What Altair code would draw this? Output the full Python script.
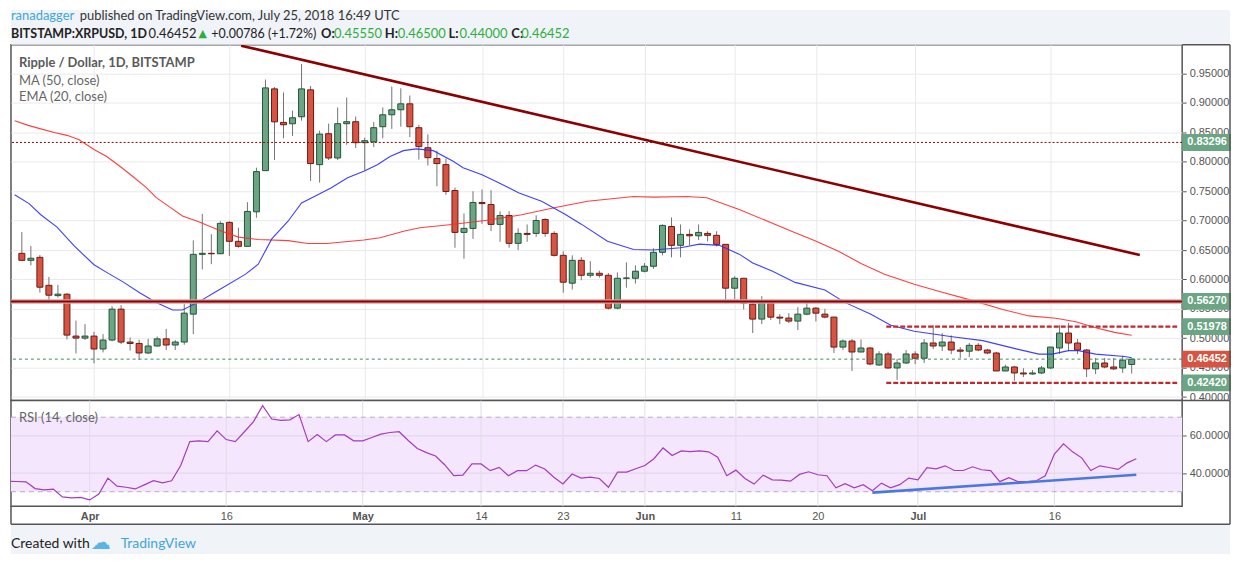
import altair as alt
import pandas as pd

# ---------------- data ----------------
first_day = "2018-03-24"
last_day = "2018-07-25"

opens = [
    0.6444, 0.6325, 0.6376, 0.5900, 0.5725, 0.5749, 0.5037, 0.5003,
    0.5037, 0.4817, 0.4970, 0.5495, 0.4936, 0.4912, 0.4750, 0.4868, 0.4990, 0.4885,
    0.4936, 0.5410, 0.6427, 0.6444, 0.6437, 0.6970, 0.6648, 0.6563, 0.7150, 0.7850,
    0.9240, 0.8670, 0.8647, 0.8766, 0.9224, 0.7952, 0.8478, 0.8065, 0.8648, 0.8682,
    0.8325, 0.8340, 0.8597, 0.8800, 0.8885, 0.8986, 0.8580, 0.8240, 0.8055, 0.7953,
    0.7512, 0.6800, 0.6868, 0.7309, 0.7275, 0.6936, 0.7088, 0.6614, 0.6783, 0.6783,
    0.7020, 0.6783, 0.6410, 0.5936, 0.6325, 0.6071, 0.6105, 0.6071, 0.5512, 0.6020, 0.6020,
    0.6140, 0.6224, 0.6461, 0.6900, 0.6580, 0.6766, 0.6742, 0.6783, 0.6750, 0.6597,
    0.5851, 0.6020, 0.5580, 0.5326, 0.5597, 0.5359, 0.5343, 0.5292, 0.5410, 0.5512,
    0.5410, 0.5360, 0.4850, 0.4953, 0.4767, 0.4834, 0.4546, 0.4733, 0.4495, 0.4580,
    0.4733, 0.4660, 0.4920, 0.4868, 0.4936, 0.4800, 0.4780, 0.4880, 0.4800, 0.4750,
    0.4444, 0.4512, 0.4410, 0.4393, 0.4410, 0.4495, 0.4834, 0.5088, 0.4919, 0.4800,
    0.4480, 0.4580, 0.4512, 0.4495, 0.4555,
]
highs = [
    0.6805, 0.6570, 0.6415, 0.6042, 0.5907, 0.5770, 0.5300, 0.5240,
    0.5110, 0.5070, 0.5546, 0.5563, 0.5010, 0.4975, 0.4990, 0.5030, 0.5160, 0.4970,
    0.5580, 0.6665, 0.7115, 0.6770, 0.6990, 0.6990, 0.6880, 0.7313, 0.7900, 0.9398,
    0.9270, 0.9180, 0.8870, 0.9664, 0.9290, 0.8529, 0.8650, 0.8924, 0.9093, 0.8770,
    0.8410, 0.8675, 0.8924, 0.9280, 0.9250, 0.9127, 0.8630, 0.8466, 0.8190, 0.8055,
    0.7563, 0.7122, 0.7500, 0.7530, 0.7517, 0.7160, 0.7160, 0.6870, 0.6935, 0.7090,
    0.7040, 0.6820, 0.6480, 0.6410, 0.6380, 0.6310, 0.6150, 0.6110, 0.6120, 0.6290, 0.6240,
    0.6280, 0.6530, 0.6935, 0.7055, 0.6935, 0.6850, 0.6935, 0.6820, 0.6820, 0.6600,
    0.6054, 0.6020, 0.5614, 0.5716, 0.5624, 0.5410, 0.5427, 0.5530, 0.5648, 0.5530,
    0.5500, 0.5360, 0.4980, 0.4986, 0.4980, 0.4850, 0.4780, 0.4770, 0.4650, 0.4800,
    0.4780, 0.4986, 0.5224, 0.5088, 0.5050, 0.4850, 0.4920, 0.4920, 0.4820, 0.4770,
    0.4550, 0.4530, 0.4490, 0.4460, 0.4530, 0.4850, 0.5224, 0.5258, 0.4986, 0.4820,
    0.4665, 0.4665, 0.4665, 0.4705, 0.4650,
]
lows = [
    0.6320, 0.6240, 0.5776, 0.5607, 0.5690, 0.4980, 0.4742, 0.4970,
    0.4573, 0.4760, 0.4946, 0.4900, 0.4790, 0.4630, 0.4730, 0.4860, 0.4800, 0.4800,
    0.4890, 0.5070, 0.6170, 0.6260, 0.6430, 0.6400, 0.6540, 0.6560, 0.7050, 0.7850,
    0.8030, 0.8400, 0.8440, 0.8700, 0.7675, 0.7647, 0.8030, 0.8030, 0.8290, 0.8234,
    0.7856, 0.8250, 0.8400, 0.8560, 0.8597, 0.8420, 0.8040, 0.7936, 0.7585, 0.7440,
    0.6539, 0.6352, 0.6690, 0.6946, 0.6822, 0.6640, 0.6540, 0.6500, 0.6640, 0.6725,
    0.6725, 0.6390, 0.5776, 0.5830, 0.5986, 0.6030, 0.6030, 0.5490, 0.5495, 0.5860, 0.5930,
    0.6120, 0.6180, 0.6410, 0.6376, 0.6376, 0.6580, 0.6670, 0.6647, 0.6560, 0.5597,
    0.5665, 0.5490, 0.5088, 0.5240, 0.5309, 0.5240, 0.5258, 0.5140, 0.5390, 0.5285,
    0.5340, 0.4750, 0.4800, 0.4444, 0.4760, 0.4540, 0.4530, 0.4480, 0.4292, 0.4563,
    0.4560, 0.4580, 0.4817, 0.4783, 0.4730, 0.4660, 0.4680, 0.4780, 0.4730, 0.4444,
    0.4440, 0.4280, 0.4340, 0.4380, 0.4390, 0.4480, 0.4733, 0.4780, 0.4730, 0.4340,
    0.4390, 0.4490, 0.4460, 0.4410, 0.4400,
]
closes = [
    0.6325, 0.6360, 0.5868, 0.5732, 0.5750, 0.5054, 0.5003, 0.5037,
    0.4817, 0.4970, 0.5495, 0.4936, 0.4912, 0.4750, 0.4868, 0.4990, 0.4885, 0.4936,
    0.5427, 0.6427, 0.6444, 0.6437, 0.6953, 0.6648, 0.6563, 0.7156, 0.7834, 0.9257,
    0.8680, 0.8630, 0.8749, 0.9240, 0.7970, 0.8471, 0.8065, 0.8648, 0.8682, 0.8325,
    0.8359, 0.8580, 0.8800, 0.8885, 0.8986, 0.8597, 0.8258, 0.8070, 0.7970, 0.7495,
    0.6800, 0.6868, 0.7309, 0.7290, 0.6936, 0.7088, 0.6614, 0.6783, 0.6766, 0.7003,
    0.6783, 0.6410, 0.5953, 0.6325, 0.6071, 0.6105, 0.6071, 0.5512, 0.6020, 0.6025, 0.6140,
    0.6224, 0.6461, 0.6919, 0.6580, 0.6766, 0.6742, 0.6800, 0.6750, 0.6597, 0.5851,
    0.6020, 0.5597, 0.5326, 0.5597, 0.5359, 0.5343, 0.5292, 0.5410, 0.5512, 0.5427,
    0.5360, 0.4850, 0.4953, 0.4767, 0.4834, 0.4563, 0.4733, 0.4495, 0.4580, 0.4733,
    0.4660, 0.4920, 0.4868, 0.4936, 0.4800, 0.4780, 0.4880, 0.4800, 0.4750, 0.4444,
    0.4512, 0.4410, 0.4393, 0.4410, 0.4495, 0.4850, 0.5088, 0.4919, 0.4800, 0.4480,
    0.4580, 0.4512, 0.4480, 0.4628, 0.4645,
]

# RSI(14) read per day, Mar 23 .. Jul 25
rsi_first_day = "2018-03-23"
rsi_vals = [
    35.6,
    35.5, 35.3, 31.7, 31.0, 31.4, 27.2, 26.7, 27.0,
    25.6, 28.8, 37.3, 33.0, 32.4, 31.5, 33.7, 35.9, 34.8, 35.9,
    44.1, 56.9, 57.3, 56.9, 62.7, 58.0, 56.9, 62.2, 67.6, 76.2,
    69.0, 68.3, 68.6, 71.4, 56.9, 60.7, 56.9, 60.5, 60.5, 57.3,
    57.3, 59.1, 60.9, 61.8, 62.2, 57.5, 53.2, 51.0, 49.2, 44.5,
    38.6, 38.9, 44.9, 44.9, 41.3, 43.1, 38.6, 41.3, 41.3, 44.3,
    42.2, 37.8, 34.2, 39.5, 37.3, 37.8, 37.1, 32.4, 40.5, 40.5, 42.3,
    44.1, 47.7, 53.5, 49.4, 51.9, 51.5, 51.9, 51.4, 48.5, 38.6,
    41.6, 37.1, 34.1, 38.9, 36.4, 36.2, 35.7, 39.3, 40.7, 39.1,
    38.6, 32.1, 34.3, 32.1, 33.8, 30.5, 34.6, 32.1, 33.8, 37.3,
    36.4, 42.9, 42.3, 43.9, 41.4, 41.4, 43.4, 41.8, 41.3, 35.4,
    37.5, 35.4, 35.4, 35.9, 38.6, 50.2, 55.7, 51.4, 48.2, 41.4,
    43.9, 43.0, 42.0, 45.5, 47.7,
]

# moving averages (days counted from Apr 1)
ma50_day = [-8.8, -7.3, -5.9, -4.4, -3.0, -1.7, 0.0, 1.4, 2.9, 4.3, 5.8, 6.9, 8.4, 9.8, 11.6,
            13.8, 16.0, 18.2, 21.5, 23.7, 25.8, 29.9, 31.7, 34.3, 36.1, 39.4, 43.8, 47.4,
            51.0, 54.7, 59.8, 62.0, 65.7, 67.9, 71.5, 77.3, 79.9, 82.5, 85.0, 87.6, 90.9,
            93.8, 97.4, 100.7, 103.6, 106.6, 108.8, 111.0, 113.1, 115.0]
ma50_val = [0.870, 0.862, 0.856, 0.850, 0.845, 0.838, 0.821, 0.809, 0.792, 0.775, 0.756, 0.739,
            0.723, 0.708, 0.698, 0.684, 0.672, 0.668, 0.666, 0.661, 0.661, 0.667, 0.671, 0.682,
            0.688, 0.693, 0.701, 0.710, 0.722, 0.733, 0.741, 0.740, 0.741, 0.739, 0.719, 0.682,
            0.666, 0.648, 0.627, 0.609, 0.592, 0.579, 0.564, 0.549, 0.538, 0.534, 0.528, 0.518,
            0.510, 0.505]
ema20_day = [-8.8, -7.2, -5.9, -4.1, -2.2, 0.0, 1.4, 3.3, 5.1, 6.9, 8.7, 9.8, 11.5, 13.5, 16.8,
             18.2, 19.7, 21.5, 23.0, 24.8, 26.3, 28.1, 29.9, 31.4, 32.8, 34.3, 35.7, 37.6, 39.8,
             40.9, 43.0, 44.9, 47.1, 49.6, 52.2, 54.0, 56.9, 59.8, 62.0, 65.0, 67.1, 69.3, 71.5,
             73.0, 75.2, 77.7, 81.0, 83.2, 86.1, 88.3, 90.9, 94.9, 98.5, 102.2, 104.7, 106.2,
             108.0, 109.1, 111.0, 114.2, 115.0]
ema20_val = [0.744, 0.729, 0.710, 0.689, 0.657, 0.625, 0.612, 0.595, 0.577, 0.561, 0.548, 0.548,
             0.561, 0.579, 0.609, 0.626, 0.669, 0.699, 0.730, 0.744, 0.756, 0.773, 0.784, 0.795,
             0.809, 0.819, 0.822, 0.819, 0.801, 0.790, 0.778, 0.764, 0.747, 0.733, 0.711, 0.694,
             0.665, 0.651, 0.650, 0.654, 0.660, 0.658, 0.643, 0.628, 0.614, 0.595, 0.582, 0.561,
             0.541, 0.522, 0.512, 0.503, 0.496, 0.482, 0.473, 0.473, 0.479, 0.479, 0.473, 0.469,
             0.467]

# drawn lines
trend_day = [16.3, 115.9]
trend_val = [0.9975, 0.6415]
rsi_trend_day = [86.0, 115.0]
rsi_trend_val = [29.5, 39.1]
level_vals = [0.83296, 0.56270, 0.51978, 0.46452, 0.42420]
level_text = ["0.83296", "0.56270", "0.51978", "0.46452", "0.42420"]
level_kind = ["level", "level", "level", "last", "level"]
range_start_day = 87.8

# axes
price_ticks = [0.40, 0.45, 0.50, 0.55, 0.60, 0.65, 0.70, 0.75, 0.80, 0.85, 0.90, 0.95]
tick_days = [0, 15, 30, 43, 52, 61, 71, 80, 91, 106]
tick_labels = ["Apr", "16", "May", "14", "23", "Jun", "11", "20", "Jul", "16"]
month_days = [0, 30, 61, 91]
rsi_ticks = [40, 60]

# ---------------- frames ----------------
base = pd.Timestamp("2018-04-01")
dates = pd.date_range(first_day, last_day)
candles = pd.DataFrame({
    "d": [(t - base).days for t in dates],
    "o": opens, "h": highs, "l": lows, "c": closes,
})
candles["dir"] = ["up" if c >= o else "down" for o, c in zip(opens, closes)]

rsi_dates = pd.date_range(rsi_first_day, last_day)
rsi_df = pd.DataFrame({"d": [(t - base).days for t in rsi_dates], "v": rsi_vals})
ma_df = pd.DataFrame({"d": ma50_day, "v": ma50_val})
ema_df = pd.DataFrame({"d": ema20_day, "v": ema20_val})
trend_df = pd.DataFrame({"d": trend_day, "v": trend_val})
rtrend_df = pd.DataFrame({"d": rsi_trend_day, "v": rsi_trend_val})
lv = pd.DataFrame({"p": level_vals, "t": level_text, "kind": level_kind})
one = pd.DataFrame({"k": [0]})

W, HP, HR = 1175, 357, 106
XDOM = [-8.65, 120.04]
GRID = "#e9e9ec"
AXC = "#555555"
FRAME = "#555555"
BG = "#f0f3f7"
LFONT = "Lato"

xs = alt.Scale(domain=XDOM, nice=False, zero=False)
ys = alt.Scale(domain=[0.394, 0.999], nice=False, zero=False)
rs = alt.Scale(domain=[22.2, 78.9], nice=False, zero=False)

xaxis_p = alt.Axis(values=tick_days, labels=False, ticks=False, domain=False, grid=True,
                   gridColor=GRID, title=None)
yaxis_p = alt.Axis(orient="right", values=price_ticks, format=".5f", grid=True, gridColor=GRID,
                   domain=False, ticks=True, tickSize=4, tickColor=AXC, labelColor=AXC,
                   labelFont="Liberation Sans", labelFontSize=11, labelPadding=3, title=None)

label_expr = "".join(f"datum.value == {d} ? '{l}' : " for d, l in zip(tick_days, tick_labels)) + "''"
month_test = " || ".join(f"datum.value == {d}" for d in month_days)
xaxis_r = alt.Axis(values=tick_days, labelExpr=label_expr, grid=False, ticks=False, domain=False,
                   labelColor=AXC, labelFont="Liberation Sans", labelFontSize=11, labelPadding=4,
                   labelFontWeight={"condition": {"test": month_test, "value": "bold"}, "value": "normal"},
                   labelFlush=False, title=None)
yaxis_r = alt.Axis(orient="right", values=rsi_ticks, format=".4f", grid=False, domain=False,
                   ticks=True, tickSize=4, tickColor=AXC, labelColor=AXC,
                   labelFont="Liberation Sans", labelFontSize=11, labelPadding=3, title=None)


def PX(f):
    return alt.X(f, type="quantitative", scale=xs, axis=xaxis_p)


def PY(f):
    return alt.Y(f, type="quantitative", scale=ys, axis=yaxis_p)


def RX(f):
    return alt.X(f, type="quantitative", scale=xs, axis=xaxis_r)


def RY(f):
    return alt.Y(f, type="quantitative", scale=rs, axis=yaxis_r)


def txt(s, x, y, size=13, color="#555555", weight="normal", font=LFONT, align="left"):
    return alt.Chart(one).mark_text(text=s, fontSize=size, color=color, fontWeight=weight,
                                    font=font, align=align, baseline="middle").encode(
        x=alt.value(x), y=alt.value(y))


def box(x, x2, y, y2, fill):
    return alt.Chart(one).mark_rect(fill=fill).encode(
        x=alt.value(x), x2=alt.value(x2), y=alt.value(y), y2=alt.value(y2))


def line(x, x2, y, y2, color=FRAME, w=1.5):
    return alt.Chart(one).mark_rule(color=color, strokeWidth=w).encode(
        x=alt.value(x), x2=alt.value(x2), y=alt.value(y), y2=alt.value(y2))


# ---------------- price pane ----------------
wicks = alt.Chart(candles).mark_rule(color="#737375", strokeWidth=1).encode(
    x=PX("d"), y=PY("l"), y2=alt.Y2("h"))
bodies = alt.Chart(candles).mark_bar(size=6, strokeWidth=1).encode(
    x=PX("d"), y=PY("o"), y2=alt.Y2("c"),
    fill=alt.Fill("dir:N", scale=alt.Scale(domain=["up", "down"], range=["#6ba583", "#d75442"]), legend=None),
    stroke=alt.Stroke("dir:N", scale=alt.Scale(domain=["up", "down"], range=["#225437", "#6b1a14"]), legend=None))

ma_line = alt.Chart(ma_df).mark_line(color="#ff2a2a", strokeWidth=1.1, opacity=0.9, clip=True).encode(
    x=PX("d"), y=PY("v"))
ema_line = alt.Chart(ema_df).mark_line(color="#2a2aff", strokeWidth=1.1, opacity=0.9, clip=True).encode(
    x=PX("d"), y=PY("v"))
trend = alt.Chart(trend_df).mark_line(color="#8b0000", strokeWidth=2.6, clip=True).encode(
    x=PX("d"), y=PY("v"))

dotted = alt.Chart(lv.iloc[[0]]).mark_rule(color="#8b0000", strokeWidth=1, strokeDash=[2, 2]).encode(y=PY("p"))
green_dot = alt.Chart(lv.iloc[[3]]).mark_rule(color="#3c8c5a", strokeWidth=1, strokeDash=[3, 3]).encode(y=PY("p"))
sr_halo = alt.Chart(lv.iloc[[1]]).mark_rule(color="#d8a3a3", strokeWidth=4.5).encode(y=PY("p"))
sr_core = alt.Chart(lv.iloc[[1]]).mark_rule(color="#8b0000", strokeWidth=2).encode(y=PY("p"))
rng = lv.iloc[[2, 4]].assign(x0=range_start_day, x1=XDOM[1])
range_lines = alt.Chart(rng).mark_rule(color="#c0282e", strokeWidth=2.2, strokeDash=[5, 2]).encode(
    x=PX("x0"), x2=alt.X2("x1"), y=PY("p"))

tag_box = alt.Chart(lv).mark_rect(yOffset=-8.5, y2Offset=8.5).encode(
    x=alt.value(W), x2=alt.value(W + 49), y=PY("p"), y2=alt.Y2("p"),
    fill=alt.Fill("kind:N", scale=alt.Scale(domain=["level", "last"], range=["#990000", "#6aa784"]), legend=None))
tag_txt = alt.Chart(lv).mark_text(color="white", fontWeight="bold", font="Liberation Sans", fontSize=11).encode(
    x=alt.value(W + 25), y=PY("p"), text="t:N")

GREEN = "#2fae3e"
DARK = "#222222"
L1, L2 = -28.5, -11
header = [
    box(0, 1223, -35, 0, BG),
    txt("ranadagger", 0, L1, size=13, color="#3fa6dc"),
    txt("published on TradingView.com, July 25, 2018 16:49 UTC", 69, L1, size=13, color="#333333"),
    txt("BITSTAMP:XRPUSD, 1D", 0, L2, size=12.5, color=DARK, weight="bold"),
    txt("0.46452", 138, L2, size=13, color=DARK),
    txt("\u25b2", 188, L2, size=11, color=GREEN, font="DejaVu Sans"),
    txt("+0.00786 (+1.72%)", 201, L2, size=12.5, color=DARK),
    txt("O:", 311, L2, size=13, color=DARK, weight="bold"),
    txt("0.45550", 324, L2, size=13, color=GREEN),
    txt("H:", 375, L2, size=13, color=DARK, weight="bold"),
    txt("0.46500", 388, L2, size=13, color=GREEN),
    txt("L:", 439, L2, size=13, color=DARK, weight="bold"),
    txt("0.44000", 450, L2, size=13, color=GREEN),
    txt("C:", 502, L2, size=13, color=DARK, weight="bold"),
    txt("0.46452", 512, L2, size=13, color=GREEN),
]
legend_txt = [
    txt("Ripple / Dollar, 1D, BITSTAMP", 8, 18, size=13, color="#5a5a5a", weight="bold"),
    txt("MA (50, close)", 8, 36, size=13, color="#666666"),
    txt("EMA (20, close)", 8, 52, size=13, color="#666666"),
]
frame_p = [
    line(W, 1223, 0, 0),
    line(1223, 1223, 0, HP),
    line(W, 1223, HP, HP),
]

price = alt.layer(
    wicks, bodies, ma_line, ema_line, dotted, green_dot, sr_halo, sr_core, range_lines, trend,
    tag_box, tag_txt, *header, *legend_txt, *frame_p,
).properties(width=W, height=HP)

# ---------------- RSI pane ----------------
band = alt.Chart(pd.DataFrame({"a": [30], "b": [70]})).mark_rect(color="#f3e6fd").encode(
    x=alt.value(0), x2=alt.value(W), y=RY("a"), y2=alt.Y2("b"))
rgrid_h = alt.Chart(pd.DataFrame({"v": rsi_ticks})).mark_rule(color="#e0d3ea", strokeWidth=1).encode(y=RY("v"))
rgrid_v = alt.Chart(pd.DataFrame({"d": tick_days})).mark_rule(color="#e3dbe9", strokeWidth=1).encode(x=RX("d"))
rdash = alt.Chart(pd.DataFrame({"v": [30, 70]})).mark_rule(color="#b8acc2", strokeWidth=1, strokeDash=[5, 4]).encode(y=RY("v"))
rsi_line = alt.Chart(rsi_df).mark_line(color="#a43cbb", strokeWidth=1.2, clip=True).encode(
    x=RX("d"), y=RY("v"))
rsi_trend = alt.Chart(rtrend_df).mark_line(color="#4a78e0", strokeWidth=2.6).encode(
    x=RX("d"), y=RY("v"))

footer = [
    box(0, 1223, 124, 154, BG),
    txt("Created with", 0, 144, size=14, color="#222222"),
    txt("\u2601", 80, 143, size=20, color="#5ab4e5", font="DejaVu Sans"),
    txt("TradingView", 110, 144, size=14, color="#3fa6dc"),
]
frame_r = [
    line(1223, 1223, 0, 124),
    line(0, 1223, 124, 124),
    line(0, 0, HR, 124),
]

rsi = alt.layer(
    band, rgrid_h, rgrid_v, rdash, rsi_line, rsi_trend,
    txt("RSI (14, close)", 8, 17, size=13, color="#666666"),
    *footer, *frame_r,
).properties(width=W, height=HR)

chart = alt.vconcat(price, rsi, spacing=0, bounds="flush").properties(
    padding=0, background="white"
).configure_view(fill="white", stroke=FRAME, strokeWidth=1.5)

chart.save("out.html", embed_options={"renderer": "svg", "actions": False})
